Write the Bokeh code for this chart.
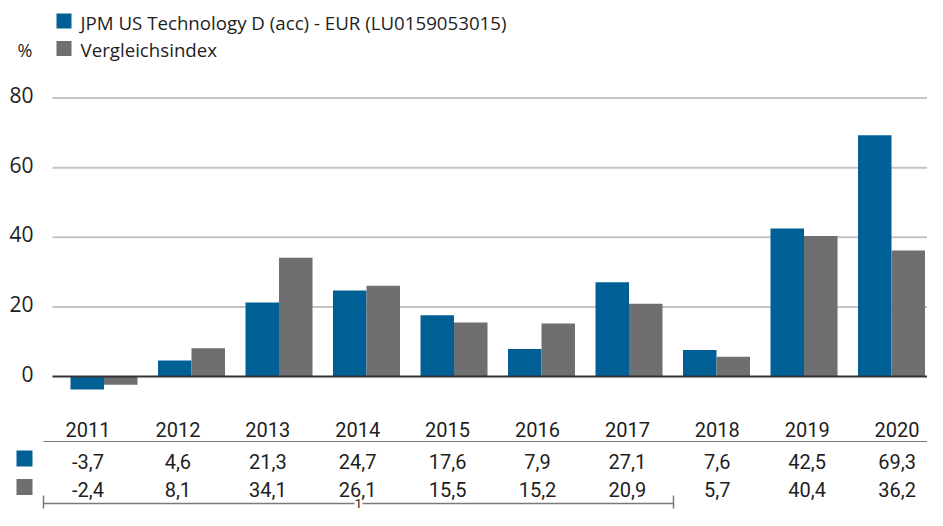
from bokeh.plotting import figure
from bokeh.models import Range1d
from bokeh.core.properties import value
from bokeh.embed import file_html
from bokeh.resources import INLINE

# ---- data ----
years = ["2011", "2012", "2013", "2014", "2015", "2016", "2017", "2018", "2019", "2020"]
fund = [-3.7, 4.6, 21.3, 24.7, 17.6, 7.9, 27.1, 7.6, 42.5, 69.3]
bench = [-2.4, 8.1, 34.1, 26.1, 15.5, 15.2, 20.9, 5.7, 40.4, 36.2]
y_ticks = [0, 20, 40, 60, 80]
y_tick_labels = ["0", "20", "40", "60", "80"]
fund_name = "JPM US Technology D (acc) - EUR (LU0159053015)"
bench_name = "Vergleichsindex"
unit_label = "%"
footnote = "1"

BLUE = "#006096"
GREY = "#6e6f71"
TEXT = "#1e1e1e"
RULE = "#7a7a7a"
FONT = "'Open Sans', 'Noto Sans', sans-serif"
NARROW = "'Liberation Sans Narrow', 'Roboto', sans-serif"

W, H = 927, 510

# layout scale: category pitch and value scale (pixels)
PITCH = 87.5
CENTER0 = 103.5
BAR_PX = 33.5
ZERO_Y = 376.0
PX_PER_UNIT = 3.48


def X(px):
    return (px - CENTER0) / PITCH


def Y(py):
    return (ZERO_Y - py) / PX_PER_UNIT


p = figure(width=W, height=H, output_backend="svg", toolbar_location=None,
           x_range=Range1d(X(0), X(W)), y_range=Range1d(Y(H), Y(0)),
           x_axis_location=None, y_axis_location=None,
           min_border=0, min_border_left=0, min_border_right=0,
           min_border_top=0, min_border_bottom=0)
p.outline_line_color = None
p.grid.visible = False
p.background_fill_color = "white"
p.border_fill_color = "white"

idx = list(range(len(years)))
bw = BAR_PX / PITCH

# grid lines
n = len(y_ticks) - 1
p.segment(x0=[X(52)] * n, x1=[X(W + 5)] * n, y0=y_ticks[1:], y1=y_ticks[1:],
          line_color="#c4c4c4", line_width=2)

# bars
p.vbar(x=[i - bw / 2 for i in idx], top=fund, bottom=0, width=bw,
       fill_color=BLUE, line_color=None)
p.vbar(x=[i + bw / 2 for i in idx], top=bench, bottom=0, width=bw,
       fill_color=GREY, line_color=None)

# zero line
p.segment(x0=[X(52)], x1=[X(W + 5)], y0=[0], y1=[0], line_color="#333333", line_width=2)

# y tick labels
p.text(x=[X(33)] * len(y_ticks), y=y_ticks, text=y_tick_labels,
       text_font=value(FONT), text_font_size=value("21px"), text_color=TEXT,
       text_align="right", text_baseline="middle", y_offset=-3)

# unit label
p.text(x=[X(24.5)], y=[Y(49)], text=[unit_label], text_font=value(FONT),
       text_font_size=value("18px"), text_color=TEXT, text_align="center",
       text_baseline="middle")

# legend
p.rect(x=[X(63.5)] * 2, y=[Y(20.5), Y(48)], width=15, height=15,
       width_units="screen", height_units="screen",
       fill_color=[BLUE, GREY], line_color=None)
p.text(x=[X(80)] * 2, y=[Y(21.5), Y(49)], text=[fund_name, bench_name],
       text_font=value(FONT), text_font_size=value("18.7px"), text_color=TEXT,
       text_align="left", text_baseline="middle")

# table
col_x = [X(87.5 + 89.9 * i) for i in idx]
fmt = lambda v: f"{v:.1f}".replace(".", ",")
YR_Y, HDR_Y, R1_Y, R2_Y = 429, 441, 461, 489
p.text(x=col_x, y=[Y(YR_Y)] * len(idx), text=years, text_font=value(NARROW),
       text_font_size=value("20px"), text_color=TEXT, text_align="center",
       text_baseline="middle")
p.segment(x0=[X(43)], x1=[X(W + 5)], y0=[Y(HDR_Y)], y1=[Y(HDR_Y)],
          line_color=RULE, line_width=1)
p.text(x=col_x, y=[Y(R1_Y)] * len(idx), text=[fmt(v) for v in fund],
       text_font=value(NARROW), text_font_size=value("20px"), text_color=TEXT,
       text_align="center", text_baseline="middle")
p.text(x=col_x, y=[Y(R2_Y)] * len(idx), text=[fmt(v) for v in bench],
       text_font=value(NARROW), text_font_size=value("20px"), text_color=TEXT,
       text_align="center", text_baseline="middle")
p.rect(x=[X(24)] * 2, y=[Y(R1_Y - 3), Y(R2_Y - 2.5)], width=16, height=16,
       width_units="screen", height_units="screen",
       fill_color=[BLUE, GREY], line_color=None)

# bracket
BY = 503
p.segment(x0=[X(43), X(362), X(43), X(673)], x1=[X(354), X(673), X(43), X(673)],
          y0=[Y(BY), Y(BY), Y(BY - 8), Y(BY - 8)], y1=[Y(BY), Y(BY), Y(BY + 5), Y(BY + 5)],
          line_color=RULE, line_width=1.5)
p.text(x=[X(358)], y=[Y(BY)], text=[footnote], text_font=value(NARROW),
       text_font_size=value("13px"), text_color=TEXT, text_align="center",
       text_baseline="middle")

open("out.html", "w").write(file_html(p, INLINE))
